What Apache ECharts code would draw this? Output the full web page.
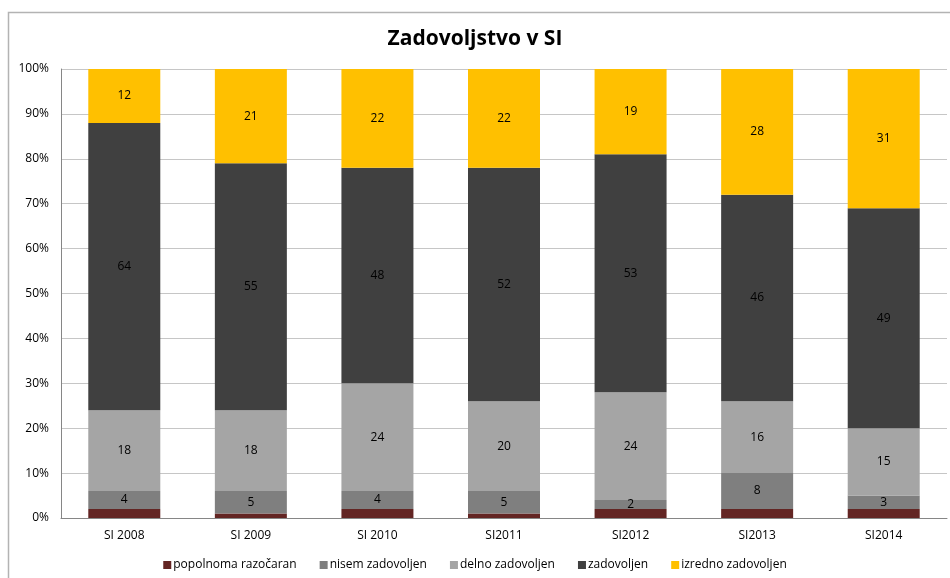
<!DOCTYPE html>
<html>
<head>
<meta charset="utf-8">
<script src="https://cdn.jsdelivr.net/npm/echarts@6/dist/echarts.min.js"></script>
<style>
  html, body { margin: 0; padding: 0; background: #fff; }
  #chart { width: 950px; height: 578px; }
</style>
</head>
<body>
<div id="chart"></div>
<script>
// Survey years
const categories = ['SI 2008', 'SI 2009', 'SI 2010', 'SI2011', 'SI2012', 'SI2013', 'SI2014'];

// Share of respondents (%) per satisfaction level
const popolnomaRazocaran = [2, 1, 2, 1, 2, 2, 2];
const nisemZadovoljen    = [4, 5, 4, 5, 2, 8, 3];
const delnoZadovoljen    = [18, 18, 24, 20, 24, 16, 15];
const zadovoljen         = [64, 55, 48, 52, 53, 46, 49];
const izrednoZadovoljen  = [12, 21, 22, 22, 19, 28, 31];

const yTicks = [0, 10, 20, 30, 40, 50, 60, 70, 80, 90, 100];

const FONT = '"Open Sans", "Noto Sans", sans-serif';

function barSeries(name, data, color, showLabel) {
  return {
    name: name,
    type: 'bar',
    stack: 'total',
    data: data,
    barWidth: 72,
    itemStyle: { color: color },
    label: {
      show: showLabel,
      position: 'inside',
      color: '#000',
      fontFamily: FONT,
      fontSize: 12
    },
    emphasis: { disabled: true }
  };
}

const chart = echarts.init(document.getElementById('chart'), null, { renderer: 'canvas' });
chart.setOption({
  animation: false,
  backgroundColor: '#fff',
  title: {
    text: 'Zadovoljstvo v SI',
    left: 'center',
    top: 24,
    textStyle: { fontFamily: FONT, fontWeight: 'bold', fontSize: 21, color: '#000' }
  },
  graphic: [{
    type: 'rect',
    shape: { x: 8.5, y: 12.5, width: 1000, height: 700 },
    style: { fill: 'none', stroke: '#b3b3b3', lineWidth: 1.5 },
    silent: true,
    z: -1
  }],
  legend: {
    bottom: 2,
    left: 'center',
    itemWidth: 8,
    itemHeight: 8,
    itemGap: 23,
    icon: 'rect',
    textStyle: { fontFamily: FONT, fontSize: 12, color: '#000', padding: [0, 0, 0, -3] },
    data: ['popolnoma razočaran', 'nisem zadovoljen', 'delno zadovoljen', 'zadovoljen', 'izredno zadovoljen']
  },
  grid: { left: 61, right: 3, top: 69, bottom: 60 },
  xAxis: {
    type: 'category',
    data: categories,
    axisLine: { lineStyle: { color: '#868686' } },
    axisTick: { show: false },
    axisLabel: { fontFamily: FONT, fontSize: 12, color: '#000', margin: 12 }
  },
  yAxis: {
    type: 'value',
    min: 0,
    max: 100,
    interval: 10,
    axisLine: { show: true, lineStyle: { color: '#868686' } },
    axisTick: { show: false },
    splitLine: { lineStyle: { color: '#c6c6c6' } },
    axisLabel: {
      fontFamily: FONT, fontSize: 12, color: '#000', margin: 12,
      formatter: v => (yTicks.indexOf(v) >= 0 ? v + '%' : '')
    }
  },
  series: [
    barSeries('popolnoma razočaran', popolnomaRazocaran, '#632523', false),
    barSeries('nisem zadovoljen', nisemZadovoljen, '#7f7f7f', true),
    barSeries('delno zadovoljen', delnoZadovoljen, '#a5a5a5', true),
    barSeries('zadovoljen', zadovoljen, '#404040', true),
    barSeries('izredno zadovoljen', izrednoZadovoljen, '#ffc000', true)
  ]
});
</script>
</body>
</html>
